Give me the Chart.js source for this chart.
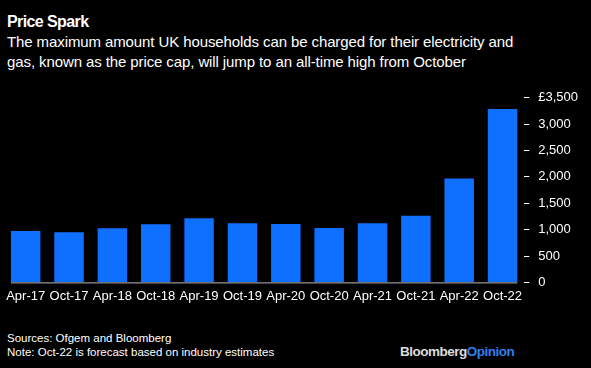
<!DOCTYPE html>
<html>
<head>
<meta charset="utf-8">
<script src="https://cdn.jsdelivr.net/npm/chart.js@4/dist/chart.umd.min.js"></script>
<style>
  body { margin:0; background:#000; width:591px; height:368px; overflow:hidden; font-family:"Liberation Sans", Arial, sans-serif; color:#fff; position:relative; }
  #titulo { position:absolute; left:7px; top:13px; font-size:16px; font-weight:bold; letter-spacing:-0.6px; }
  #sub { position:absolute; left:7px; top:32px; font-size:15px; line-height:19.5px; letter-spacing:-0.1px; width:580px; }
  #wrap { position:absolute; left:0; top:81px; width:591px; height:229px; }
  #fuentes { position:absolute; left:7px; top:331px; font-size:11.5px; line-height:14px; color:#fff; }
  #marca { position:absolute; left:400px; top:344px; font-size:13.5px; font-weight:bold; letter-spacing:-0.5px; color:#ddd; }
  #marca span { color:#2f80ed; }
</style>
</head>
<body>
<div id="titulo">Price Spark</div>
<div id="sub">The maximum amount UK households can be charged for their electricity and<br>gas, known as the price cap, will jump to an all-time high from October</div>
<div id="wrap"><canvas id="grafico"></canvas></div>
<div id="fuentes">Sources: Ofgem and Bloomberg<br>Note: Oct-22 is forecast based on industry estimates</div>
<div id="marca">Bloomberg<span>Opinion</span></div>
<script>
// periodos del tope de precio
var periodos = ['Apr-17','Oct-17','Apr-18','Oct-18','Apr-19','Oct-19','Apr-20','Oct-20','Apr-21','Oct-21','Apr-22','Oct-22'];
// valores (libras)
var tope = [975, 950, 1027, 1103, 1215, 1120, 1108, 1032, 1120, 1266, 1971, 3290];
var ticksY = [0, 500, 1000, 1500, 2000, 2500, 3000, 3500];

// linea base solo bajo las barras
var lineaBase = {
  id: 'lineaBase',
  afterDatasetsDraw: function(chart){
    var barras = chart.getDatasetMeta(0).data;
    var y = chart.scales.y.getPixelForValue(0);
    var ctx = chart.ctx;
    var a = barras[0], b = barras[barras.length-1];
    ctx.save();
    ctx.strokeStyle = '#bbbbbb';
    ctx.lineWidth = 1;
    ctx.beginPath();
    ctx.moveTo(a.x - a.width/2, y + 0.5);
    ctx.lineTo(b.x + b.width/2, y + 0.5);
    ctx.stroke();
    ctx.restore();
  }
};

new Chart(document.getElementById('grafico'), {
  type: 'bar',
  data: {
    labels: periodos,
    datasets: [{
      data: tope,
      backgroundColor: '#0f6fff',
      categoryPercentage: 0.68,
      barPercentage: 1
    }]
  },
  options: {
    responsive: true,
    maintainAspectRatio: false,
    animation: false,
    layout: { padding: { left: 4, right: 4, top: 4, bottom: 0 } },
    plugins: { legend: { display: false }, tooltip: { enabled: false } },
    scales: {
      x: {
        grid: { display: false, drawTicks: false },
        border: { display: false },
        ticks: { color: '#fff', font: { size: 13, family: '"Liberation Sans", Arial' }, maxRotation: 0, autoSkip: false, padding: 6 }
      },
      y: {
        position: 'right',
        min: 0,
        max: 3500,
        afterBuildTicks: function(axis){ axis.ticks = ticksY.map(function(v){ return {value: v}; }); },
        grid: { drawOnChartArea: false, color: '#fff', tickLength: 5, tickWidth: 1 },
        border: { display: false },
        ticks: {
          color: '#fff',
          padding: 9,
          font: { size: 13, family: '"Liberation Sans", Arial' },
          callback: function(v){ return v === 3500 ? '£3,500' : v.toLocaleString('en-US'); }
        }
      }
    }
  },
  plugins: [lineaBase]
});
</script>
</body>
</html>
